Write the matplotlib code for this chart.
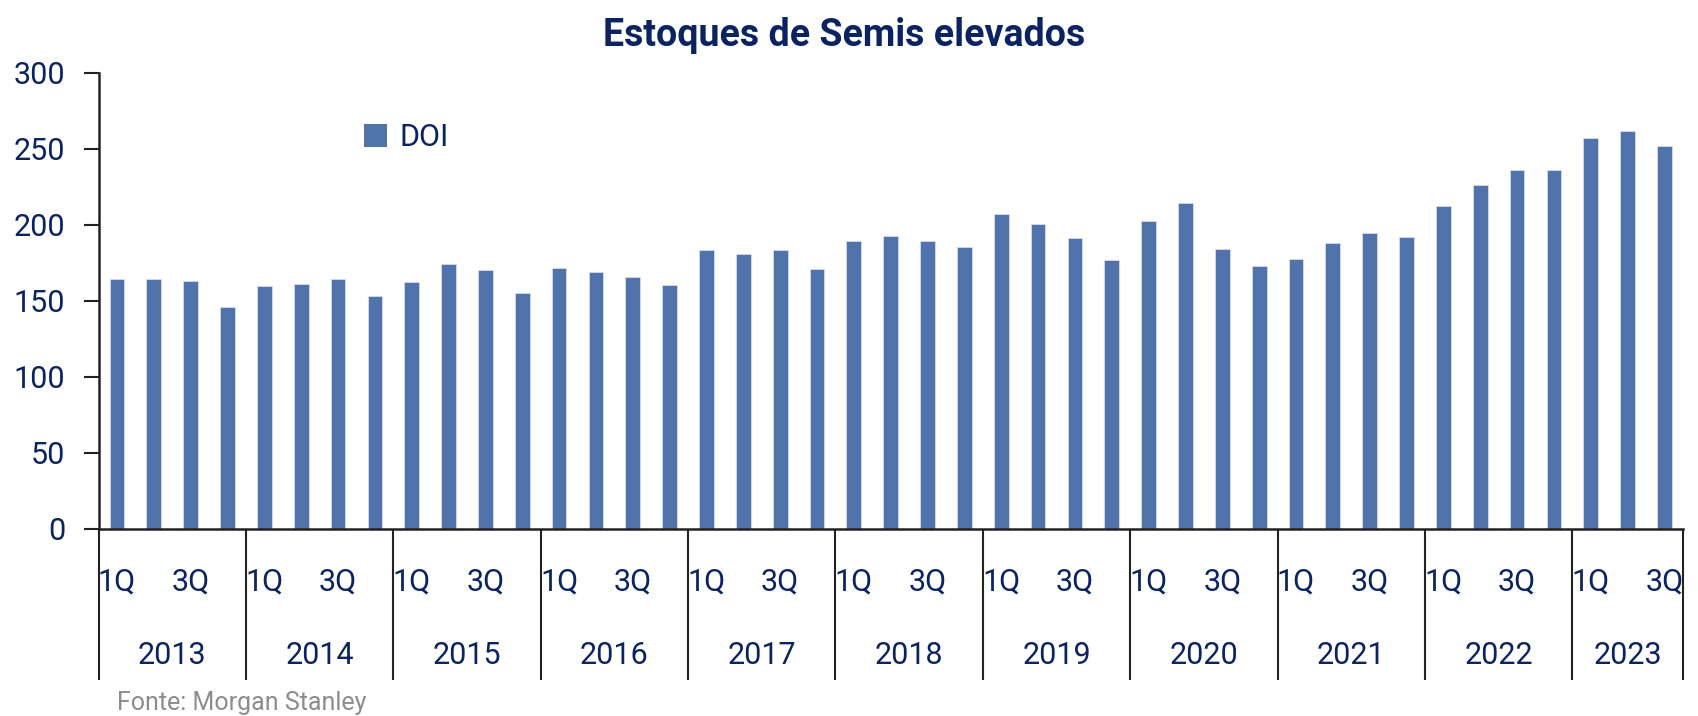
import matplotlib.pyplot as plt
import matplotlib.transforms as mtransforms
from matplotlib.patches import Patch

# DOI (days of inventory) por trimestre, 1Q13 a 3Q23
years = ["2013", "2014", "2015", "2016", "2017", "2018",
         "2019", "2020", "2021", "2022", "2023"]
quarters = ["1Q", "2Q", "3Q", "4Q"]
doi = [164, 164, 163, 146,
       159.5, 161, 164, 153,
       162.5, 174, 170.5, 155,
       171.5, 168.7, 165.4, 160.4,
       183.6, 181, 183.6, 170.7,
       189.3, 192.6, 189.5, 185.2,
       207.3, 200.3, 191.3, 176.8,
       202.6, 214.5, 183.8, 172.9,
       177.5, 188.2, 194.4, 191.7,
       212.1, 225.9, 236, 236,
       257.3, 261.7, 251.8]

navy = "#0b2461"
bar_color = "#5073ac"
plt.rcParams['font.family'] = ['Roboto', 'DejaVu Sans']

fig = plt.figure(figsize=(16.99, 7.16), dpi=100)
ax = fig.add_axes([0.058, 0.2615, 0.9325, 0.637])

n = len(doi)
xs = [i + 0.5 for i in range(n)]
ax.bar(xs, doi, width=0.4, color=bar_color, edgecolor="#d5deee", linewidth=0.6)

ax.set_xlim(0, n)
ax.set_ylim(0, 300)
ax.set_yticks([0, 50, 100, 150, 200, 250, 300])
ax.tick_params(axis='y', labelsize=22, labelcolor=navy, length=11, width=1.5,
               color="#222222", pad=13)

for s in ["top", "right"]:
    ax.spines[s].set_visible(False)
ax.spines["left"].set_color("#222222")
ax.spines["left"].set_linewidth(1.8)
ax.spines["bottom"].set_color("#222222")
ax.spines["bottom"].set_linewidth(1.8)

# year boundaries as long ticks
bounds = list(range(0, n, 4)) + [n]
ax.set_xticks(bounds)
ax.set_xticklabels([""] * len(bounds))
ax.tick_params(axis='x', which='major', length=109, width=1.5, color="#222222")

# quarter labels (only 1Q and 3Q)
qlabels = []
for i in range(n):
    q = quarters[i % 4]
    qlabels.append(q if q in ("1Q", "3Q") else "")
ax.set_xticks(xs, minor=True)
ax.set_xticklabels(qlabels, minor=True)
ax.tick_params(axis='x', which='minor', length=0, labelsize=22,
               labelcolor=navy, pad=28)

# year labels
trans = mtransforms.blended_transform_factory(ax.transData, ax.transAxes)
for k, y in enumerate(years):
    start = k * 4
    end = min(start + 4, n)
    ax.text((start + end) / 2, -0.278, y, transform=trans, ha="center",
            va="center", fontsize=22, color=navy)

fig.text(0.497, 0.951, "Estoques de Semis elevados", fontsize=27,
         fontweight="bold", color=navy, ha="center", va="center")

ax.legend(handles=[Patch(facecolor=bar_color, label="DOI")],
          loc="center left", bbox_to_anchor=(0.198, 0.808),
          bbox_transform=fig.transFigure, frameon=False, fontsize=22,
          handlelength=0.75, handleheight=0.75, handletextpad=0.4,
          labelcolor=navy)

fig.text(0.069, 0.002, "Fonte: Morgan Stanley", fontsize=18, color="#8c8c8c",
         ha="left", va="bottom")

fig.savefig("out.png", dpi=100)
